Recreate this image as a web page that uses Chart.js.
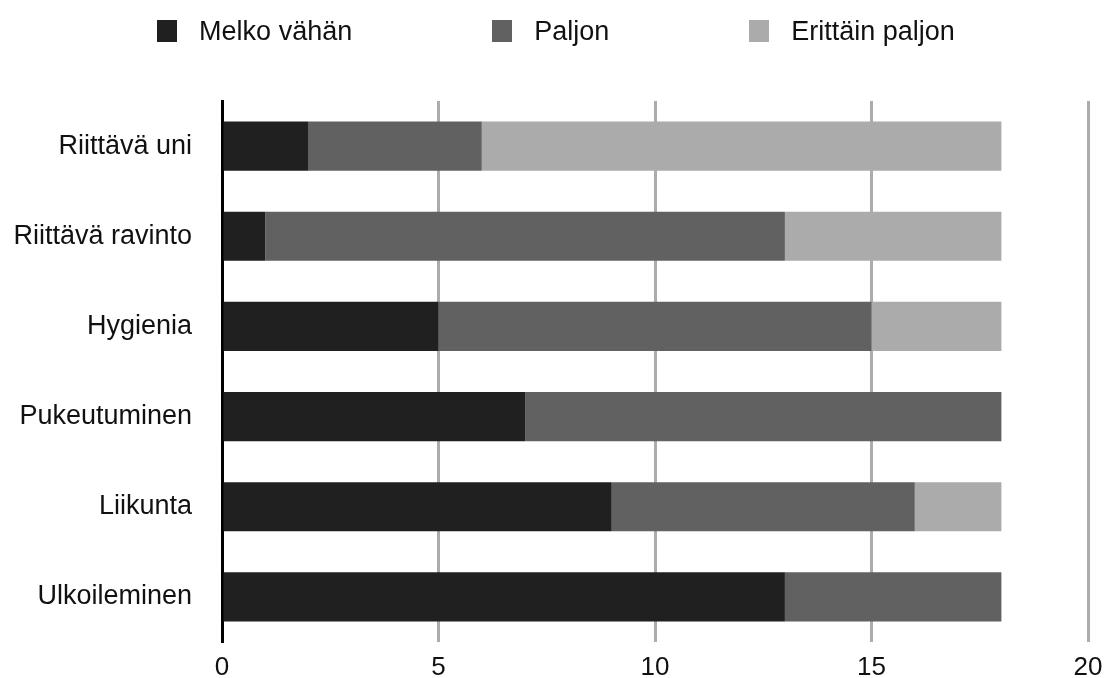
<!DOCTYPE html>
<html>
<head>
<meta charset="utf-8">
<script src="https://cdn.jsdelivr.net/npm/chart.js@4"></script>
<style>
  html, body { margin: 0; padding: 0; background: #fff; }
  #wrap { position: relative; width: 1106px; height: 678px; }
  #legend {
    position: absolute; top: 20px; left: 3px; width: 1106px;
    display: flex; justify-content: center; gap: 140px;
    font-family: "Liberation Sans", Arial, sans-serif; font-size: 27px; color: #111;
  }
  .item { display: flex; align-items: center; height: 22px; white-space: nowrap; }
  .box { width: 20px; height: 22px; margin-right: 22px; }
</style>
</head>
<body>
<div id="wrap">
  <div id="legend"></div>
  <canvas id="chart" width="1106" height="678"></canvas>
</div>
<script>
var categories = ["Riittävä uni", "Riittävä ravinto", "Hygienia", "Pukeutuminen", "Liikunta", "Ulkoileminen"];
var seriesNames = ["Melko vähän", "Paljon", "Erittäin paljon"];
var melkoVahan = [2, 1, 5, 7, 9, 13];
var paljon = [4, 12, 10, 11, 7, 5];
var erittainPaljon = [12, 5, 3, 0, 2, 0];
var seriesColors = ["#202020", "#616161", "#ababab"];

var seriesData = [melkoVahan, paljon, erittainPaljon];

var datasets = seriesNames.map((name, i) => ({
  label: name,
  data: seriesData[i],
  backgroundColor: seriesColors[i],
  borderWidth: 0,
  barPercentage: 0.545,
  categoryPercentage: 1,
}));

// legend as html
var legendEl = document.getElementById("legend");
seriesNames.forEach((name, i) => {
  var item = document.createElement("div");
  item.className = "item";
  var box = document.createElement("span");
  box.className = "box";
  box.style.background = seriesColors[i];
  var txt = document.createElement("span");
  txt.textContent = name;
  item.appendChild(box);
  item.appendChild(txt);
  legendEl.appendChild(item);
});

var ctx = document.getElementById("chart").getContext("2d");

new Chart(ctx, {
  type: "bar",
  data: {
    labels: categories,
    datasets: datasets,
  },
  options: {
    indexAxis: "y",
    responsive: false,
    animation: false,
    layout: {
      padding: { top: 101, right: 18, left: 0, bottom: 0 },
    },
    plugins: {
      legend: { display: false },
      tooltip: { enabled: false },
    },
    scales: {
      x: {
        stacked: true,
        min: 0,
        max: 20,
        ticks: {
          stepSize: 5,
          padding: 10,
          color: "#111",
          font: { family: "Liberation Sans", size: 26 },
        },
        grid: {
          drawTicks: false,
          lineWidth: 3,
          color: (c) => (c.index === 0 ? "rgba(0,0,0,0)" : "#acacac"),
        },
        border: { display: false },
        afterFit: (scale) => {
          scale.height = 36;
          scale.paddingLeft = 0;
          scale.paddingRight = 0;
        },
      },
      y: {
        stacked: true,
        ticks: {
          padding: 30,
          color: "#111",
          font: { family: "Liberation Sans", size: 27 },
        },
        grid: { display: false, drawTicks: false },
        border: { display: true, color: "#000", width: 3 },
        afterFit: (scale) => {
          scale.width = 222;
          scale.paddingTop = 0;
          scale.paddingBottom = 0;
        },
      },
    },
  },
});
</script>
</body>
</html>
